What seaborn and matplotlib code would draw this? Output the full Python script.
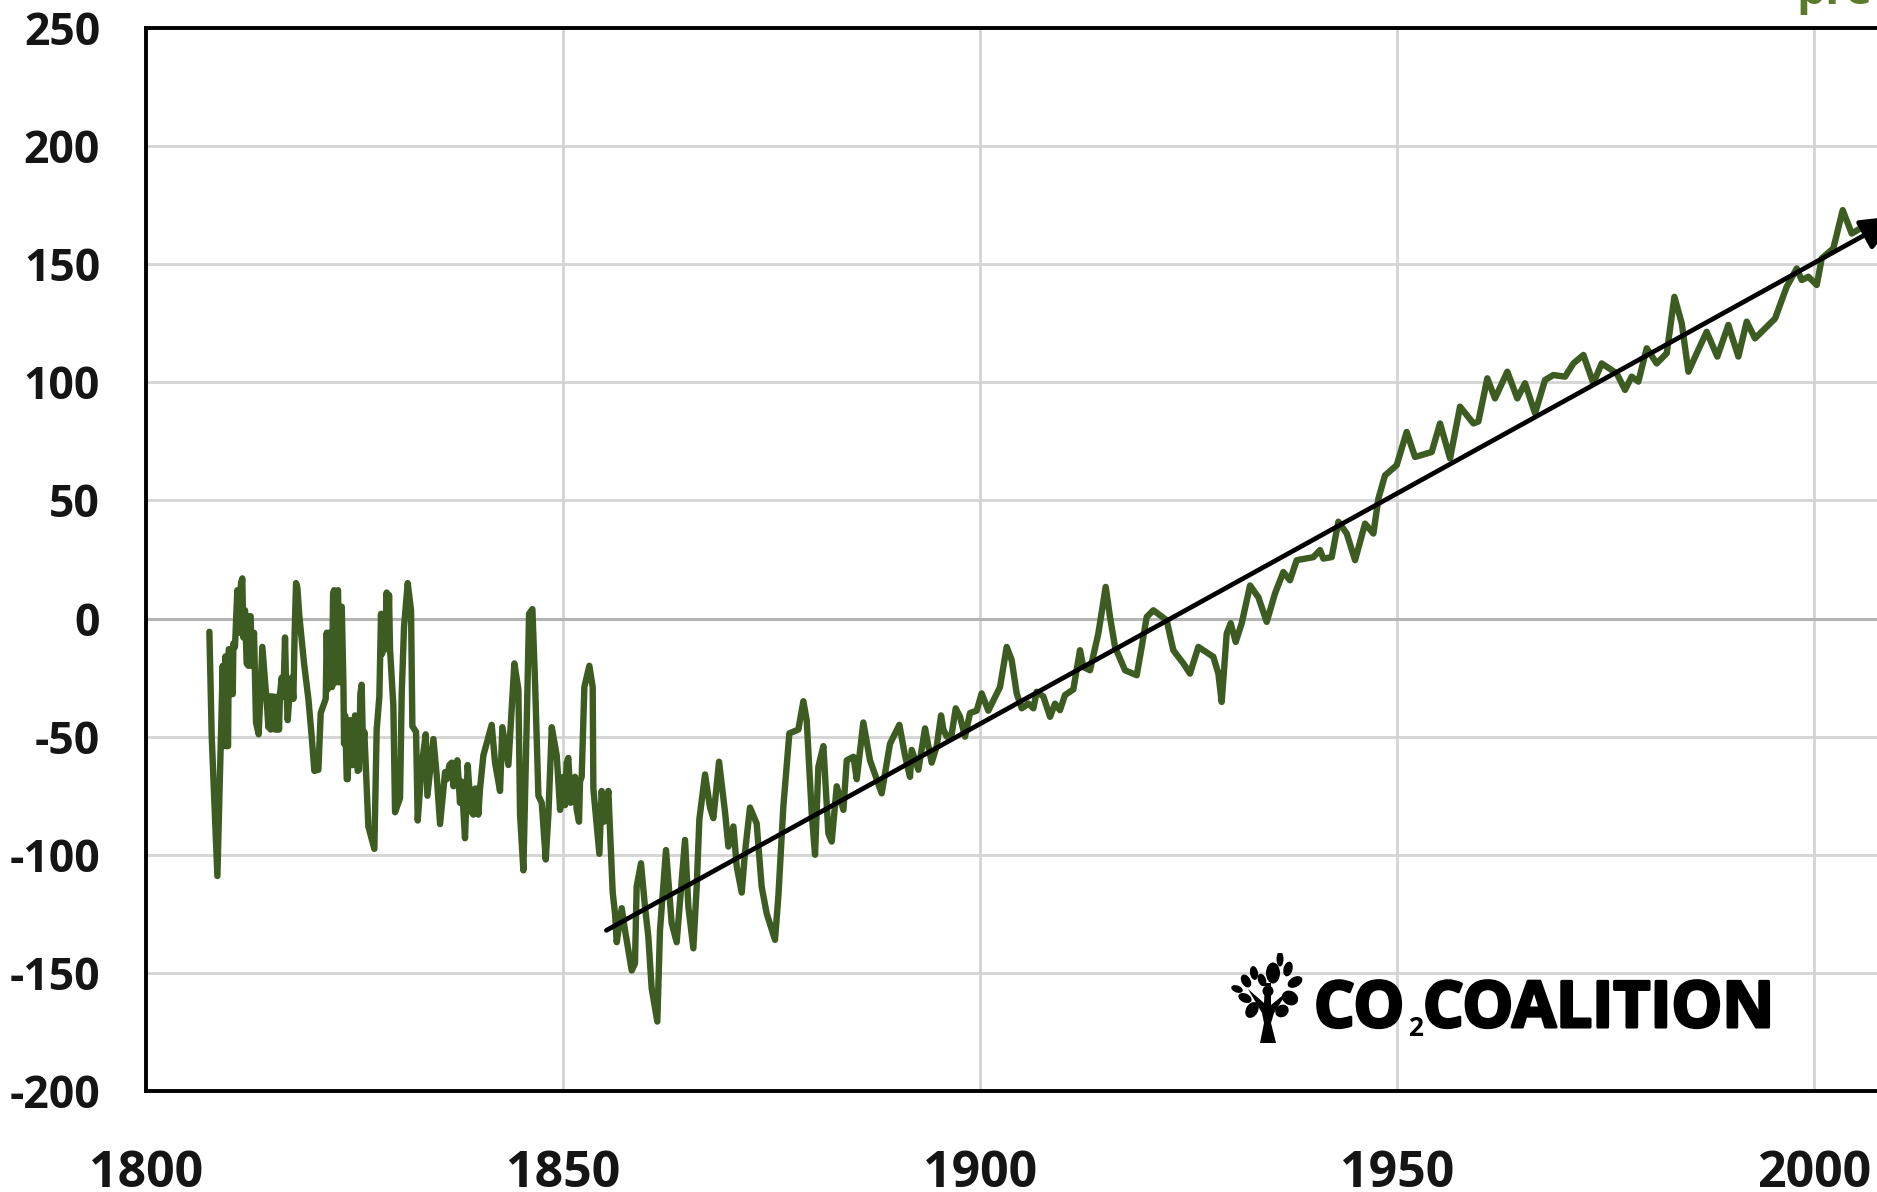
import matplotlib
matplotlib.use("Agg")
import matplotlib.pyplot as plt
from matplotlib.patches import Ellipse, Polygon
import matplotlib.patheffects as pe
import seaborn as sns

# =========================
# DATA
# =========================
years_a = [1807.60, 1807.88, 1808.56, 1808.96, 1809.20, 1809.68, 1810.08, 1810.28, 1810.67, 1810.95,
           1811.20, 1811.55, 1811.87, 1812.27, 1812.55, 1812.95, 1813.19, 1813.51, 1813.95, 1814.55,
           1814.67, 1815.07, 1815.47, 1815.79, 1815.95, 1816.27, 1816.67, 1816.99, 1817.27, 1817.67,
           1817.99, 1818.39, 1818.95, 1819.47, 1819.87, 1820.19, 1820.67, 1820.95, 1821.55, 1821.67,
           1822.07, 1822.15, 1822.55, 1822.79, 1823.03, 1823.39, 1823.67, 1823.75, 1824.07, 1824.47,
           1824.66, 1825.06, 1825.38, 1825.86, 1826.18, 1826.66, 1827.38, 1827.66, 1828.18, 1828.54,
           1828.86, 1829.26, 1829.66, 1829.86, 1830.46, 1830.66, 1830.94, 1831.38, 1831.78, 1831.94,
           1832.38, 1832.58, 1833.06, 1833.54, 1833.74, 1834.46, 1834.86, 1835.26, 1835.86, 1836.66,
           1836.86, 1837.33, 1837.65, 1838.25, 1838.57, 1839.05, 1839.45, 1839.85, 1840.45, 1841.45,
           1841.85, 1842.45, 1842.73, 1843.45, 1844.17, 1844.65, 1844.85, 1845.25, 1845.65, 1845.93,
           1846.33, 1846.65, 1847.05, 1847.45, 1847.93, 1848.25, 1848.65, 1849.25, 1849.65, 1850.05,
           1850.64, 1850.92, 1851.44, 1851.92, 1852.24, 1852.56, 1853.16, 1853.56, 1853.64, 1854.36,
           1854.64, 1854.92, 1855.44, 1855.64, 1855.96]
level_a = [-5.6, -50, -109, -54, -20, -54, -13, -32, -12, 12,
           -6, 17, 3.5, -20, 1, -6, -44, -49, -12, -39,
           -46, -33, -47, -33, -47, -25, -8, -43, -29, -34,
           15, 1, -19, -34, -50, -64.5, -64, -40, -34, -6,
           -27, -6, 12, -27, 12, 1, -27, -53, -68, -43,
           -62, -41, -64.5, -28, -48, -88, -97.5, -47, 2, -13,
           11, -13, -37, -82, -76, -32, -3.5, 15, 3.5, -45.6,
           -48, -85.5, -62, -49, -75, -51, -66.6, -87, -65, -61,
           -71, -60, -78, -93, -62, -82, -72, -83, -58, -45,
           -61, -73, -46, -62, -19, -30, -83, -106.6, -44, 2,
           4, -27, -75, -78, -102, -83, -46, -58, -81, -67,
           -59, -78, -67, -86, -67, -29, -20, -29, -72, -99.6,
           -73, -86, -73, -90, -116]

# extra readings where the curve is a dense saw-tooth
years_a2 = [1809.36, 1809.52, 1809.84, 1809.92, 1810.40, 1810.48,
            1811.07, 1811.39, 1811.67, 1812.07, 1812.39, 1812.67,
            1814.79, 1814.95, 1815.27, 1815.67, 1816.07, 1816.47, 1816.79, 1817.47, 1817.83, 1818.15,
            1821.79, 1821.91, 1822.31, 1822.43, 1822.67, 1822.91, 1823.15, 1823.47,
            1823.87, 1824.19, 1824.34, 1824.86, 1825.18, 1825.54, 1825.70, 1826.02,
            1827.98, 1828.30, 1828.42, 1828.70, 1829.02, 1829.14,
            1836.06, 1836.38, 1837.06, 1837.85, 1838.05, 1838.77, 1839.25, 1839.65, 1840.05,
            1849.85, 1850.25, 1850.44, 1851.16, 1851.64, 1852.04,
            1891.01, 1893.81, 1894.81, 1895.61, 1896.60, 1897.60, 1899.60]
level_a2 = [-54, -16, -54, -13, -32, -10.5,
            -5, 15, -8, -19, 1, -20,
            -33, -47, -33, -47, -32, -33, -27, -25, -5, 13,
            -30, -6, -29, 10.5, -27, 10.5, -27, 5,
            -41, -68, -44, -62, -43, -64, -32, -55,
            -33, -15, 2, -13, -13, 10,
            -68, -62, -69, -69, -81, -72, -83, -72, -72,
            -69, -79, -61, -72, -81, -69,
            -58, -54, -54, -47, -49, -41.5, -39]

years_b = [1856.24, 1856.44, 1857.04, 1857.44, 1858.24, 1858.63, 1858.83, 1859.35, 1859.83, 1860.23,
           1860.63, 1861.31, 1861.63, 1862.35, 1863.03, 1863.63, 1864.63, 1865.03, 1865.63, 1866.03,
           1866.35, 1867.03, 1867.63, 1868.03, 1868.71, 1869.43, 1869.83, 1870.43, 1870.83, 1871.43,
           1871.82, 1872.42, 1873.22, 1873.82, 1874.42, 1875.42, 1875.82, 1876.42, 1877.14, 1878.22,
           1878.82, 1879.22, 1879.82, 1880.22, 1880.62, 1881.22, 1881.82, 1882.22, 1882.82, 1883.62,
           1884.02, 1884.82, 1885.22, 1886.01, 1886.81, 1887.61, 1888.21, 1889.21, 1890.33, 1891.61,
           1891.81, 1892.61, 1893.41, 1894.21, 1895.33, 1896.01, 1897.09, 1898.20, 1898.80, 1900.20,
           1901.00]
level_b = [-125, -137, -122.6, -132, -149, -146, -113.5, -103.6, -122, -134.6,
           -156.5, -170.6, -132, -98, -129, -137, -93.7, -122, -139.6, -113.5,
           -85, -66, -80, -84.5, -60.6, -82, -96.5, -88, -105, -116,
           -99, -80, -86.7, -113.5, -124.8, -136, -117.7, -79.6, -48.6, -47,
           -35, -43, -82.4, -100, -62.7, -54, -91, -94.4, -71, -81,
           -60, -58.5, -68, -44, -60, -68, -74, -53, -45, -67,
           -55.6, -64, -46.5, -61, -41, -50, -38, -50, -40, -31.7,
           -39]

years_c = [1902.40, 1903.20, 1903.80, 1904.40, 1905.00, 1905.80, 1906.40, 1906.80, 1907.60, 1908.40,
           1908.99, 1909.59, 1910.19, 1911.19, 1911.99, 1912.39, 1913.19, 1914.19, 1915.07, 1915.59,
           1916.19, 1917.39, 1918.79, 1919.39, 1919.99, 1920.79, 1922.38, 1923.18, 1924.38, 1925.18,
           1926.18, 1927.98, 1928.58, 1928.98, 1929.58, 1930.06, 1930.66, 1931.38, 1932.38, 1933.38,
           1934.38, 1935.37, 1936.37, 1937.17, 1937.97, 1939.97, 1940.77, 1941.17, 1942.17, 1942.97,
           1943.97, 1944.97, 1946.17, 1947.17, 1947.77, 1948.56, 1949.96, 1951.16, 1952.16, 1954.16]
level_c = [-29, -12, -17.6, -31.7, -38, -36, -38, -31, -33, -41.6,
           -36, -38.8, -32.4, -30, -13.4, -20.5, -21.9, -6.3, 13.4, 0.7,
           -12, -21.9, -24, -12, 0.7, 3.5, -0.7, -13.4, -19, -23.3,
           -12, -16.2, -23.3, -35.3, -6.3, -2, -9.9, -2, 14, 9,
           -1.4, 10.6, 19.7, 16.2, 24.7, 26, 29, 25.4, 26, 41,
           36, 24.7, 40.2, 36, 50.8, 60.6, 64.9, 79, 68.4, 70.5]

years_d = [1955.16, 1956.36, 1957.56, 1959.16, 1959.76, 1960.83, 1961.75, 1963.23, 1964.43, 1965.35,
           1966.55, 1967.75, 1968.75, 1970.15, 1971.15, 1972.35, 1973.54, 1974.54, 1976.34, 1977.34,
           1978.14, 1978.94, 1979.94, 1981.14, 1982.34, 1983.26, 1984.14, 1984.94, 1985.94, 1987.13,
           1988.41, 1989.73, 1990.93, 1991.93, 1992.93, 1995.33, 1996.73, 1997.93, 1998.53, 1999.33,
           2000.33, 2000.93, 2002.32, 2003.44, 2004.52, 2005.92, 2007.52]
level_d = [82.6, 67.8, 89.7, 82.6, 83.4, 101.7, 93.2, 104.5, 93.2, 99.6,
           86.9, 101, 103.1, 102.4, 108, 111.6, 99.6, 108, 103.8, 96.8,
           102.4, 100.3, 114.4, 108, 112.3, 136.2, 125, 104.5, 112.3, 121.4,
           110.9, 124.3, 110.9, 125.7, 118.6, 127, 140.5, 148.2, 143.3, 144.7,
           141.2, 152.5, 156.7, 172.9, 163, 165.9, 163.8]

years = years_a + years_a2 + years_b + years_c + years_d
level = level_a + level_a2 + level_b + level_c + level_d

trend_years = [1855.2, 2010.3]
trend_level = [-132, 170.6]

y_ticks = [-200, -150, -100, -50, 0, 50, 100, 150, 200, 250]
x_ticks = [1800, 1850, 1900, 1950, 2000]

# =========================
# FIGURE
# =========================
W, H = 1877, 1192
sns.set_theme(style="whitegrid")
plt.rcParams["font.family"] = ["Open Sans", "DejaVu Sans"]
plt.rcParams["axes.unicode_minus"] = False

fig = plt.figure(figsize=(W / 100, H / 100), dpi=100, facecolor="white")
ax = fig.add_axes([146 / W, 1 - 1091 / H, (W - 146) / W, (1091 - 28) / H])

sns.lineplot(x=years, y=level, ax=ax, color="#3c5c22", linewidth=4.6,
             estimator=None, errorbar=None, sort=True, zorder=3,
             solid_joinstyle="round")

ax.annotate("", xy=(trend_years[1], trend_level[1]), xytext=(trend_years[0], trend_level[0]),
            annotation_clip=False, zorder=4,
            arrowprops=dict(arrowstyle="-|>,head_length=0.8,head_width=0.33", color="black",
                            lw=3.4, mutation_scale=30, shrinkA=0, shrinkB=0))

ax.set_xlim(1800, 1800 + (W - 146) / 8.34)
ax.set_ylim(-200, 250)
ax.set_xticks(x_ticks)
ax.set_yticks(y_ticks)
ax.grid(True, color="#d4d4d4", linewidth=2.0)
ax.axhline(0, color="#b4b4b4", linewidth=2.2, zorder=1)
ax.set_axisbelow(True)
ax.set_xlabel("")
ax.set_ylabel("")

ax.tick_params(axis="y", length=0, pad=33, labelsize=32, labelcolor="#151515")
ax.tick_params(axis="x", length=0, pad=42, labelsize=36, labelcolor="#151515")
for lab in ax.get_xticklabels() + ax.get_yticklabels():
    lab.set_fontweight("bold")

for side in ["left", "top", "bottom"]:
    ax.spines[side].set_color("black")
    ax.spines[side].set_linewidth(2.8)
ax.spines["right"].set_visible(False)

# title of the original, cut off by the top of the picture
fig.text(1796 / W, 1 - 4 / H, "pre", color="#5b7a2c", fontsize=33, fontweight="bold",
         ha="left", va="baseline")

# =========================
# LOGO
# =========================
heavy = [pe.withStroke(linewidth=2.2, foreground="black")]
fig.text(1314 / W, 1 - 1027 / H, "CO", fontsize=46, fontweight="bold", color="black",
         ha="left", va="baseline", path_effects=heavy)
fig.text(1408 / W, 1 - 1036 / H, "2", fontsize=19, fontweight="bold", color="black",
         ha="left", va="baseline")
fig.text(1423 / W, 1 - 1027 / H, "COALITION", fontsize=46, fontweight="bold", color="black",
         ha="left", va="baseline", path_effects=heavy)

tree = fig.add_axes([1230 / W, 1 - 1043 / H, 74 / W, 90 / H])
tree.set_xlim(0, 74)
tree.set_ylim(0, 90)
tree.axis("off")
leaves = [(50, 84, 7, 15, 0), (43, 70, 14, 21, 0), (58, 74, 9, 15, -15), (24, 70, 8, 14, 10),
          (32, 63, 8, 13, 20), (16, 62, 9, 14, 30), (7, 54, 12, 7, -20), (15, 45, 14, 9, -25),
          (38, 52, 11, 11, 0), (65, 61, 16, 10, 30), (60, 45, 17, 14, -30), (22, 33, 12, 17, -30),
          (52, 32, 14, 12, 35)]
for lx, ly, lw_, lh, ang in leaves:
    tree.add_patch(Ellipse((lx, ly), lw_, lh, angle=ang, color="black", lw=0))
tree.add_patch(Polygon([(30, 0), (46, 0), (41, 20), (44, 30), (58, 52), (41, 38), (41, 60),
                        (35, 60), (34, 40), (18, 54), (32, 30), (34, 20)],
                       closed=True, color="black", lw=0))

fig.savefig("out.png", dpi=100)
